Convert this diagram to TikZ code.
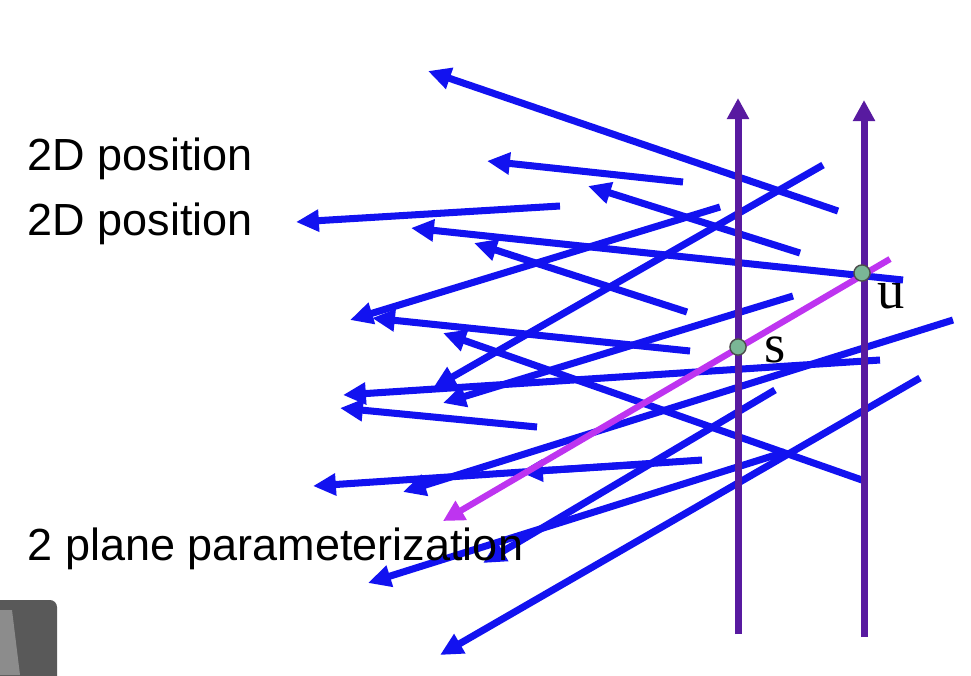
\documentclass[tikz,border=0pt]{standalone}
\usepackage{fontspec}
\setmainfont{Liberation Serif}
\setsansfont{Liberation Sans}
\usetikzlibrary{arrows.meta}

\definecolor{rayblue}{RGB}{18,18,240}
\definecolor{planepurple}{RGB}{88,26,160}
\definecolor{raymagenta}{RGB}{190,52,240}
\definecolor{pointgreen}{RGB}{122,182,150}

\tikzset{
  ray/.style={rayblue, line width=2pt, -{Triangle[length=6.5pt,width=6pt]}},
  planeaxis/.style={planepurple, line width=2pt, -{Triangle[length=6pt,width=6pt]}},
  chosenray/.style={raymagenta, line width=1.8pt, -{Triangle[length=6pt,width=6pt]}},
  hitpoint/.style={circle, fill=pointgreen, draw=black!70, line width=0.4pt, inner sep=0pt, minimum size=4.6pt},
  caption/.style={anchor=base west, inner sep=0pt, font=\sffamily\fontsize{12.8}{15}\selectfont},
  planelabel/.style={anchor=base west, inner sep=0pt, font=\fontsize{15.5}{18}\selectfont}
}

\begin{document}
\begin{tikzpicture}[x=0.01cm, y=-0.01cm]
  \useasboundingbox (0,0) rectangle (971,675);

  % Bundle of rays
  \draw[ray] (838,211) -- (428,71);
  \draw[ray] (683,182) -- (487,161);
  \draw[ray] (800,253) -- (588,186);
  \draw[ray] (560,206) -- (296,222);
  \draw[ray] (903,280) -- (411,228);
  \draw[ray] (687,312) -- (474,243);
  \draw[ray] (720,207) -- (350,320);
  \draw[ray] (823,165) -- (433,388);
  \draw[ray] (690,351) -- (372,318);
  \draw[ray] (862,480) -- (443,333);
  \draw[ray] (880,360) -- (343,395);
  \draw[ray] (537,427) -- (340,408);
  \draw[ray] (793,296) -- (443,403);
  \draw[ray] (953,320) -- (403,492);
  \draw[ray] (702,460) -- (313,486);
  \draw[ray] (650,464) -- (520,472);
  \draw[ray] (775,390) -- (483,563);
  \draw[ray] (785,452) -- (368,583);
  \draw[ray] (920,378) -- (440,655);

  % The two planes
  \coordinate (sbot) at (738,634);
  \coordinate (stop) at (738,98);
  \coordinate (ubot) at (864,637);
  \coordinate (utop) at (864,100);
  \draw[planeaxis] (sbot) -- (stop);
  \draw[planeaxis] (ubot) -- (utop);

  % Ray picked out by (s,u)
  \coordinate (rstart) at (890,259);
  \coordinate (rend) at (443,521);
  \draw[chosenray] (rstart) -- (rend);
  \node[hitpoint] (s) at (738,347) {};
  \node[hitpoint] (u) at (862,273) {};
  \node[planelabel] (slabel) at (764,362) {s};
  \node[planelabel] (ulabel) at (877,308) {u};

  % Captions
  \node[caption] (pos1) at (27,170) {2D position};
  \node[caption] (pos2) at (27,235) {2D position};
  \node[caption] (twoplane) at (27,560) {2 plane parameterization};

  % Corner of the camera overlay
  \fill[black!65, rounded corners=2pt] (-10,600) rectangle (57,685);
  \fill[black!45] (0,610) -- (12,610) -- (20,675) -- (0,675) -- cycle;
\end{tikzpicture}
\end{document}
